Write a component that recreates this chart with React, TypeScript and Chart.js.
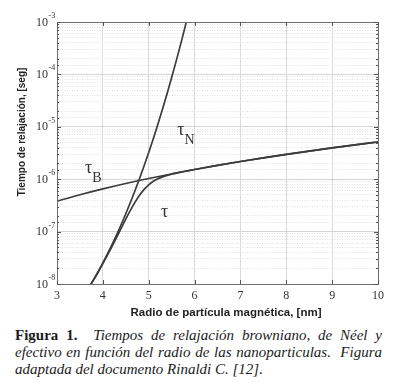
import React, { useEffect, useRef } from 'react';
import { Chart, registerables } from 'chart.js';
Chart.register(...registerables);

// Brownian relaxation time tau_B vs particle radius [nm]
const radiusB = [3, 3.5, 4, 4.5, 5, 5.5, 6, 6.5, 7, 7.5, 8, 8.5, 9, 9.5, 10];
const tauB = [3.80e-7, 5.04e-7, 6.52e-7, 8.28e-7, 1.03e-6, 1.26e-6, 1.53e-6, 1.84e-6, 2.18e-6, 2.56e-6, 2.98e-6, 3.44e-6, 3.95e-6, 4.52e-6, 5.13e-6];

// Néel relaxation time tau_N
const radiusN = [3.7, 3.8, 3.9, 4.0, 4.1, 4.2, 4.3, 4.4, 4.5, 4.6, 4.7, 4.8, 4.9, 5.0, 5.1, 5.2, 5.3, 5.4, 5.5, 5.6, 5.7, 5.8, 5.9];
const tauN = [8.77e-9, 1.225e-8, 1.746e-8, 2.535e-8, 3.75e-8, 5.65e-8, 8.69e-8, 1.365e-7, 2.19e-7, 3.59e-7, 6.01e-7, 1.028e-6, 1.803e-6, 3.24e-6, 5.94e-6, 1.119e-5, 2.16e-5, 4.28e-5, 8.69e-5, 1.811e-4, 3.87e-4, 8.53e-4, 1.93e-3];

// Effective relaxation time tau
const radiusEff = [3.7, 3.8, 3.9, 4.0, 4.1, 4.2, 4.3, 4.4, 4.5, 4.6, 4.7, 4.8, 4.9, 5.0, 5.1, 5.2, 5.3, 5.4, 5.5, 5.6, 5.7, 5.8, 5.9, 6.0, 6.5, 7, 7.5, 8, 8.5, 9, 9.5, 10];
const tauEff = [8.63e-9, 1.20e-8, 1.696e-8, 2.44e-8, 3.556e-8, 5.24e-8, 7.79e-8, 1.164e-7, 1.73e-7, 2.537e-7, 3.613e-7, 4.926e-7, 6.38e-7, 7.82e-7, 9.107e-7, 1.019e-6, 1.108e-6, 1.183e-6, 1.247e-6, 1.307e-6, 1.364e-6, 1.420e-6, 1.476e-6, 1.533e-6, 1.84e-6, 2.18e-6, 2.56e-6, 2.98e-6, 3.44e-6, 3.95e-6, 4.52e-6, 5.13e-6];

// axis ticks / labels
const xMin = 3;
const xMax = 10;
const yDecades = [1e-8, 1e-7, 1e-6, 1e-5, 1e-4, 1e-3];
const yExponents = ['-8', '-7', '-6', '-5', '-4', '-3'];
const xTitle = 'Radio de partícula magnética, [nm]';
const yTitle = 'Tiempo de relajación, [seg]';

// curve annotations (data coordinates)
const curveLabelText = ['τ', 'τ', 'τ'];
const curveLabelSub = ['B', 'N', ''];
const curveLabelX = [3.61, 5.62, 5.27];
const curveLabelY = [1.32e-6, 6.97e-6, 1.9e-7];

const SERIF = '"Liberation Serif", "Times New Roman", serif';
const SANS = '"Liberation Sans", Arial, sans-serif';
const LINE = '#3c3c3c';

const isDecade = (v: number) => {
  if (!v || v <= 0) return false;
  const l = Math.log10(v);
  return Math.abs(l - Math.round(l)) < 1e-6;
};

const decorPlugin = {
  id: 'decor',
  afterDraw(chart: any) {
    const { ctx, chartArea: a, scales } = chart;
    const xs = scales.x;
    const ys = scales.y;
    ctx.save();

    // frame
    ctx.strokeStyle = '#6e6e6e';
    ctx.lineWidth = 1;
    ctx.strokeRect(a.left + 0.5, a.top + 0.5, a.right - a.left, a.bottom - a.top);

    // inward tick marks
    ctx.strokeStyle = '#555';
    ctx.beginPath();
    xs.ticks.forEach((t: any) => {
      const px = Math.round(xs.getPixelForValue(t.value)) + 0.5;
      ctx.moveTo(px, a.bottom);
      ctx.lineTo(px, a.bottom - 4);
      ctx.moveTo(px, a.top);
      ctx.lineTo(px, a.top + 4);
    });
    ys.ticks.forEach((t: any) => {
      const py = Math.round(ys.getPixelForValue(t.value)) + 0.5;
      const len = isDecade(t.value) ? 4 : 2;
      ctx.moveTo(a.left, py);
      ctx.lineTo(a.left + len, py);
      ctx.moveTo(a.right, py);
      ctx.lineTo(a.right - len, py);
    });
    ctx.stroke();

    // x tick labels
    ctx.fillStyle = '#333';
    ctx.font = `12px ${SERIF}`;
    ctx.textAlign = 'center';
    ctx.textBaseline = 'middle';
    xs.ticks.forEach((t: any) => {
      const px = xs.getPixelForValue(t.value);
      ctx.fillText(String(t.value), px, a.bottom + 12);
    });

    // y tick labels 10^n
    yDecades.forEach((d, i) => {
      const py = ys.getPixelForValue(d);
      ctx.font = `12px ${SERIF}`;
      ctx.textAlign = 'right';
      ctx.textBaseline = 'middle';
      ctx.fillText('10', a.left - 9, py + 0.5);
      ctx.font = `8px ${SERIF}`;
      ctx.textAlign = 'left';
      ctx.fillText(yExponents[i], a.left - 8.5, py - 6);
    });

    // axis titles
    ctx.fillStyle = '#222';
    ctx.font = `bold 11.5px ${SANS}`;
    ctx.textAlign = 'center';
    ctx.textBaseline = 'middle';
    ctx.fillText(xTitle, 226, a.bottom + 29);

    ctx.save();
    ctx.translate(22, 132);
    ctx.rotate(-Math.PI / 2);
    ctx.font = `bold 10px ${SANS}`;
    ctx.fillText(yTitle, 0, 0);
    ctx.restore();

    // curve annotations
    ctx.fillStyle = '#333';
    ctx.textAlign = 'left';
    ctx.textBaseline = 'alphabetic';
    curveLabelText.forEach((txt, i) => {
      const px = xs.getPixelForValue(curveLabelX[i]);
      const py = ys.getPixelForValue(curveLabelY[i]);
      ctx.font = `18px ${SERIF}`;
      ctx.fillText(txt, px, py);
      const w = ctx.measureText(txt).width;
      if (curveLabelSub[i]) {
        ctx.font = `14px ${SERIF}`;
        ctx.fillText(curveLabelSub[i], px + w, py + 9);
      }
    });

    ctx.restore();
  },
};

const toPoints = (xs: number[], ys: number[]) => xs.map((x, i) => ({ x, y: ys[i] }));

export default function App() {
  const ref = useRef<HTMLCanvasElement | null>(null);

  useEffect(() => {
    if (!ref.current) return;
    const ds = (data: any) => ({
      data,
      borderColor: LINE,
      borderWidth: 1.7,
      pointRadius: 0,
      fill: false,
      cubicInterpolationMode: 'monotone' as const,
    });
    const chart = new Chart(ref.current, {
      type: 'line',
      data: {
        datasets: [
          ds(toPoints(radiusB, tauB)),
          ds(toPoints(radiusN, tauN)),
          ds(toPoints(radiusEff, tauEff)),
        ],
      },
      options: {
        responsive: false,
        maintainAspectRatio: false,
        animation: false,
        layout: { padding: { left: 57, top: 22, right: 32, bottom: 38 } },
        plugins: { legend: { display: false }, tooltip: { enabled: false } },
        scales: {
          x: {
            type: 'linear',
            min: xMin,
            max: xMax,
            ticks: { display: false, stepSize: 1 },
            grid: { color: '#dadada', drawTicks: false, lineWidth: 1 },
            border: { display: false },
          },
          y: {
            type: 'logarithmic',
            min: yDecades[0],
            max: yDecades[yDecades.length - 1],
            ticks: { display: false },
            grid: {
              drawTicks: false,
              lineWidth: 1,
              color: (c: any) => (c.tick && isDecade(c.tick.value) ? '#d4d4d4' : '#e0e0e0'),
            },
            border: {
              display: false,
              dash: (c: any) => (c.tick && isDecade(c.tick.value) ? [] : [1, 1.5]),
            },
          },
        },
      },
      plugins: [decorPlugin],
    } as any);
    return () => chart.destroy();
  }, []);

  return (
    <div style={{ position: 'absolute', left: 0, top: 0, width: 410, height: 386, background: '#fff' }}>
      <canvas ref={ref} width={410} height={322} style={{ display: 'block', width: 410, height: 322 }} />
      <div
        style={{
          position: 'absolute',
          left: 15,
          top: 327,
          width: 367,
          fontFamily: SERIF,
          fontSize: 15,
          lineHeight: '17px',
          color: '#1c1c1c',
        }}
      >
        <div style={{ textAlign: 'justify', textAlignLast: 'justify' as any }}>
          <b style={{ fontStyle: 'normal' }}>Figura 1.</b>&nbsp; <i>Tiempos de relajación browniano, de Néel y</i>
        </div>
        <div style={{ textAlign: 'justify', textAlignLast: 'justify' as any }}>
          <i>efectivo en función del radio de las nanoparticulas.&nbsp; Figura</i>
        </div>
        <div>
          <i>adaptada del documento Rinaldi C. [12].</i>
        </div>
      </div>
    </div>
  );
}
